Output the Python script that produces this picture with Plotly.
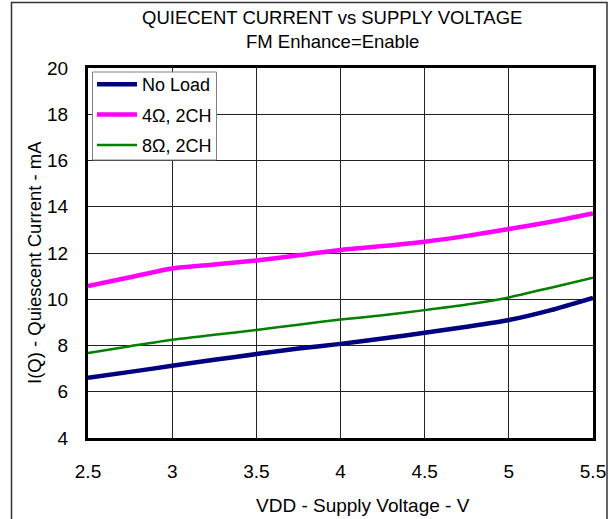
import plotly.graph_objects as go

vdd = [2.5, 2.75, 3.0, 3.25, 3.5, 3.75, 4.0, 4.25, 4.5, 4.75, 5.0, 5.25, 5.5]
no_load = [6.60, 6.86, 7.12, 7.38, 7.63, 7.87, 8.07, 8.30, 8.55, 8.81, 9.10, 9.53, 10.06]
load_4ohm = [10.57, 10.95, 11.33, 11.50, 11.68, 11.90, 12.13, 12.30, 12.49, 12.74, 13.04, 13.35, 13.71]
load_8ohm = [7.68, 7.97, 8.25, 8.46, 8.67, 8.90, 9.12, 9.31, 9.53, 9.77, 10.08, 10.50, 10.93]

series_names = ["No Load", "4Ω, 2CH", "8Ω, 2CH"]
x_ticks = [2.5, 3, 3.5, 4, 4.5, 5, 5.5]
y_ticks = [4, 6, 8, 10, 12, 14, 16, 18, 20]

FONT = "Liberation Sans, Arial, sans-serif"

# plot area in pixels
L, R, T, B = 88, 593, 68, 438
W, H = 611, 519
PW, PH = R - L, B - T


def px(x):
    return (x - L) / PW


def py(y):
    return (B - y) / PH


fig = go.Figure()
fig.add_trace(go.Scatter(x=vdd, y=no_load, name=series_names[0], mode="lines",
                         line=dict(color="#000080", width=4.5, shape="spline", smoothing=0.6),
                         legendgroup="a"))
fig.add_trace(go.Scatter(x=vdd, y=load_4ohm, name=series_names[1], mode="lines",
                         line=dict(color="#FF00FF", width=4.5, shape="spline", smoothing=0.6),
                         legendgroup="b"))
fig.add_trace(go.Scatter(x=vdd, y=load_8ohm, name=series_names[2], mode="lines",
                         line=dict(color="#008000", width=2.5, shape="spline", smoothing=0.6),
                         legendgroup="c"))

axis_common = dict(
    showline=True, linecolor="black", linewidth=3, mirror=True,
    showgrid=True, gridcolor="#222222", gridwidth=1,
    zeroline=False, ticks="", automargin=False,
    tickfont=dict(family=FONT, size=19, color="black"),
)

fig.update_layout(
    width=W, height=H,
    margin=dict(l=L, r=W - R, t=T, b=H - B, autoexpand=False),
    paper_bgcolor="white", plot_bgcolor="white",
    font=dict(family=FONT, color="black"),
    showlegend=True,
    legend=dict(x=px(92), y=py(66), xanchor="left", yanchor="top",
                bgcolor="rgba(0,0,0,0)", borderwidth=0,
                font=dict(family=FONT, size=18, color="black"),
                tracegroupgap=4, itemwidth=40),
    xaxis=dict(range=[2.5, 5.5], tickvals=x_ticks, ticktext=[str(v) for v in x_ticks],
               ticklabelstandoff=14, **axis_common),
    yaxis=dict(range=[4, 20], tickvals=y_ticks, ticklabelstandoff=13, **axis_common),
    annotations=[
        dict(text="QUIECENT CURRENT vs SUPPLY VOLTAGE", xref="paper", yref="paper",
             x=px(332), y=py(17), xanchor="center", yanchor="middle",
             showarrow=False, font=dict(family=FONT, size=18.5, color="black")),
        dict(text="FM Enhance=Enable", xref="paper", yref="paper",
             x=px(332), y=py(41), xanchor="center", yanchor="middle",
             showarrow=False, font=dict(family=FONT, size=18.5, color="black")),
        dict(text="VDD - Supply Voltage - V", xref="paper", yref="paper",
             x=px(363), y=py(505), xanchor="center", yanchor="middle",
             showarrow=False, font=dict(family=FONT, size=19, color="black")),
        dict(text="I(Q) - Quiescent Current - mA", xref="paper", yref="paper",
             x=px(34), y=py(263), xanchor="center", yanchor="middle", textangle=-90,
             showarrow=False, font=dict(family=FONT, size=18.5, color="black")),
    ],
    shapes=[
        dict(type="rect", xref="paper", yref="paper",
             x0=px(11.5), x1=px(607), y0=py(530), y1=py(2.5),
             line=dict(color="#333333", width=1.5), fillcolor="rgba(0,0,0,0)", layer="below"),
        dict(type="rect", xref="paper", yref="paper",
             x0=px(92.5), x1=px(216.5), y0=py(160), y1=py(72),
             line=dict(color="#808080", width=1), fillcolor="white", layer="above"),
    ],
)

fig.write_html("out.html", config={"displayModeBar": False},
               post_script="document.body.style.margin='0';document.body.style.overflow='hidden';")
